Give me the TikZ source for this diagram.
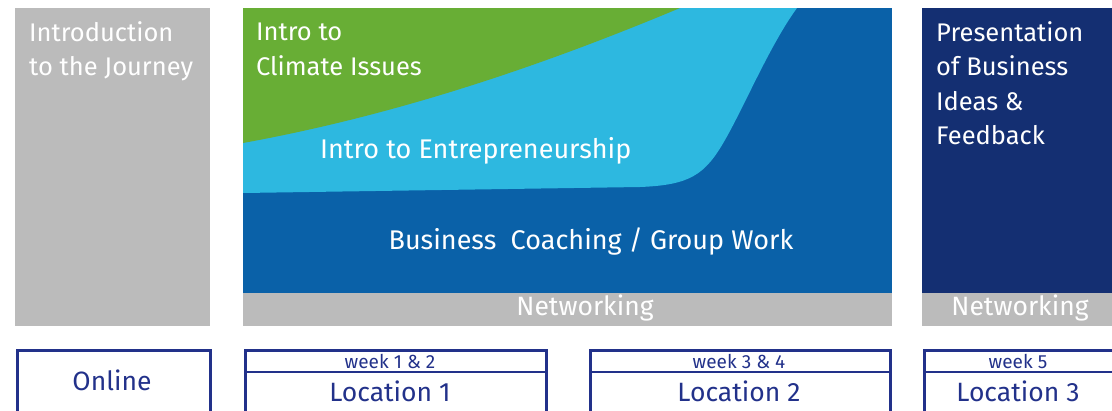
\documentclass[tikz,border=0pt]{standalone}
\usepackage{fontspec}
\setmainfont{Fira Sans}
\definecolor{greyblock}{HTML}{BBBBBB}
\definecolor{climategreen}{HTML}{68AE35}
\definecolor{entrelight}{HTML}{2DB8E0}
\definecolor{coachblue}{HTML}{0A61A8}
\definecolor{presnavy}{HTML}{142F72}
\definecolor{boxnavy}{HTML}{22318A}
\tikzset{
  block/.style={anchor=north west, inner sep=0pt, outer sep=0pt},
  blocktext/.style={anchor=north west, text=white, align=left, font=\fontsize{25.5}{34.5}\selectfont, inner sep=0pt},
  bigtext/.style={text=white, font=\fontsize{27}{30}\selectfont, inner sep=0pt},
  nettext/.style={text=white, font=\fontsize{26.5}{30}\selectfont, inner sep=0pt},
  placebox/.style={draw=boxnavy, line width=2.5pt, anchor=north west, inner sep=0pt},
  weektext/.style={text=boxnavy, font=\fontsize{19}{20}\selectfont, inner sep=0pt},
  placetext/.style={text=boxnavy, font=\fontsize{26.5}{30}\selectfont, inner sep=0pt}
}
\begin{document}
\begin{tikzpicture}[x=1pt, y=-1pt]
\useasboundingbox (0,0) rectangle (1112,410);
\clip (0,0) rectangle (1112,410);
% upper blocks
\node[block, fill=greyblock, minimum width=195, minimum height=318] (journey) at (15,8) {};
\node[block, fill=coachblue, minimum width=649, minimum height=285] (coaching) at (243,8) {};
\node[block, fill=greyblock, minimum width=649, minimum height=33] (netmid) at (243,293) {};
\node[block, fill=presnavy, minimum width=195, minimum height=285] (present) at (922,8) {};
\node[block, fill=greyblock, minimum width=195, minimum height=33] (netright) at (922,293) {};
\fill[entrelight] (243,8) -- (797,8) .. controls (770,45) and (745,105) .. (725,140)
  .. controls (705,175) and (690,185) .. (640,187) -- (243,193) -- cycle;
\fill[climategreen] (243,8) -- (680,8) .. controls (520,75) and (380,118) .. (243,143) -- cycle;
% block texts
\node[blocktext] (journeytxt) at (29,21) {Introduction\\to the Journey};
\node[blocktext] (climatetxt) at (256,23) {Intro to\\Climate Issues};
\node[bigtext, anchor=west] (entretxt) at (320,151) {Intro to Entrepreneurship};
\node[bigtext] (coachtxt) at (591,241) {Business\ \ Coaching / Group Work};
\node[blocktext] (presenttxt) at (936,21) {Presentation\\of Business\\Ideas \&\\Feedback};
\node[nettext] (netmidtxt) at (585,308) {Networking};
\node[nettext] (netrighttxt) at (1020,308) {Networking};
% lower boxes
\node[placebox, minimum width=193, minimum height=80] (online) at (16,349) {};
\node[placebox, minimum width=301, minimum height=80] (loc1) at (244,349) {};
\node[placebox, minimum width=300, minimum height=80] (loc2) at (589,349) {};
\node[placebox, minimum width=200, minimum height=80] (loc3) at (923,349) {};
\draw[boxnavy, line width=1.2pt] (loc1.west |- 0,372) -- (loc1.east |- 0,372);
\draw[boxnavy, line width=1.2pt] (loc2.west |- 0,372) -- (loc2.east |- 0,372);
\draw[boxnavy, line width=1.2pt] (loc3.west |- 0,372) -- (loc3.east |- 0,372);
\node[placetext] (onlinetxt) at (112,380) {Online};
\node[weektext] (week1) at (390,361) {week 1 \& 2};
\node[placetext] (loc1txt) at (390,391) {Location 1};
\node[weektext] (week3) at (739,361) {week 3 \& 4};
\node[placetext] (loc2txt) at (739,391) {Location 2};
\node[weektext] (week5) at (1018,361) {week 5};
\node[placetext] (loc3txt) at (1018,391) {Location 3};
\end{tikzpicture}
\end{document}
